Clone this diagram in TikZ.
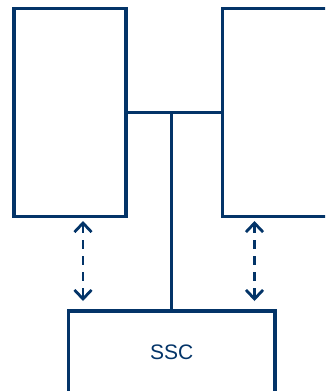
\documentclass[tikz,border=0pt]{standalone}
\usepackage{fontspec}
\setmainfont{Liberation Sans}
\usetikzlibrary{arrows.meta,calc}
\definecolor{navy}{RGB}{3,52,104}
\begin{document}
\begin{tikzpicture}[x=1pt,y=-1pt,
  box/.style={draw=navy,line width=3.8pt,inner sep=0pt,outer sep=0pt,anchor=north west},
  link/.style={draw=navy,line width=2.7pt},
  dlink/.style={draw=navy,line width=2.8pt,dash pattern=on 9pt off 7pt,
    {Straight Barb[length=9pt,width=17pt,line width=2.8pt]}-{Straight Barb[length=9pt,width=17pt,line width=2.8pt]}}]
\useasboundingbox (0,0) rectangle (325,391);
\clip (0,0) rectangle (325,391);
\node[box,minimum width=112pt,minimum height=208pt] (lb) at (14.3,8.5) {};
\node[box,minimum width=120pt,minimum height=208pt] (rb) at (222.5,8.5) {};
\node[box,minimum width=206.5pt,minimum height=100pt] (ssc) at (68.5,311) {};
\node[text=navy,font=\fontsize{21}{25}\selectfont,inner sep=0pt] (lbl) at (171.75,352) {SSC};
\draw[link] (lb.east) -- (rb.west);
\coordinate (junc) at (ssc.north |- lb.east);
\draw[link] (ssc.north) -- ([yshift=-1.35pt]junc);
\coordinate (la) at ($(lb.south west)+(68.7,4.5)$);
\coordinate (ra) at ($(rb.south west)+(32,4.5)$);
\draw[dlink] (la) -- ($(la |- ssc.north)+(0,-10)$);
\draw[dlink] (ra) -- ($(ra |- ssc.north)+(0,-10)$);
\end{tikzpicture}
\end{document}
